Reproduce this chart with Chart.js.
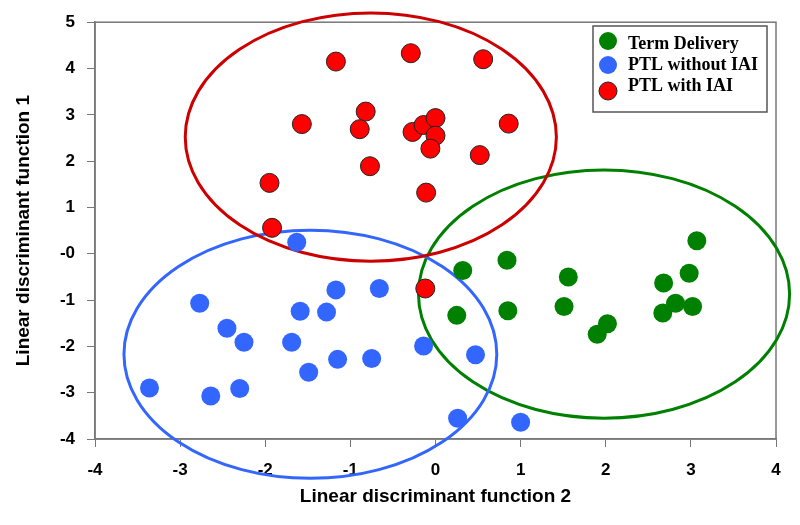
<!DOCTYPE html>
<html>
<head>
<meta charset="utf-8">
<script src="https://cdn.jsdelivr.net/npm/chart.js@4.4.1/dist/chart.umd.min.js"></script>
<style>
  html, body { margin: 0; padding: 0; background: #fff; }
  #wrap { width: 800px; height: 525px; }
</style>
</head>
<body>
<div id="wrap"><canvas id="lda-chart" width="800" height="525"></canvas></div>
<script>
// group names
const groups = ["Term Delivery", "PTL without IAI", "PTL with IAI"];

// Term Delivery (green)
const termX = [3.07, 0.84, 0.32, 1.56, 2.98, 2.68, 2.82, 3.02, 2.67, 1.51, 0.85, 0.25, 2.02, 1.90];
const termY = [0.28, -0.14, -0.36, -0.50, -0.42, -0.63, -1.07, -1.14, -1.28, -1.14, -1.23, -1.33, -1.51, -1.74];

// PTL without IAI (blue)
const noIaiX = [-1.63, -1.17, -0.66, -2.77, -1.59, -1.28, -2.45, -2.25, -1.69, -0.14, 0.47, -1.15, -0.75, -1.49, -3.36, -2.30, -2.64, 0.26, 1.00];
const noIaiY = [0.25, -0.78, -0.75, -1.07, -1.24, -1.26, -1.61, -1.91, -1.91, -1.99, -2.18, -2.28, -2.26, -2.56, -2.90, -2.91, -3.07, -3.55, -3.64];

// PTL with IAI (red)
const iaiX = [-1.17, -0.29, 0.56, -0.82, -1.57, -0.89, -0.27, -0.14, 0.00, 0.00, -0.06, 0.52, -0.77, -1.95, -0.11, -1.92, 0.86, -0.12];
const iaiY = [4.15, 4.33, 4.20, 3.07, 2.80, 2.69, 2.63, 2.78, 2.93, 2.55, 2.27, 2.13, 1.89, 1.53, 1.32, 0.56, 2.81, -0.75];

// group ellipses (center and half-widths in data units)
const ellipseCx = [1.98, -1.47, -0.76];
const ellipseCy = [-0.87, -2.17, 2.52];
const ellipseRx = [2.18, 2.19, 2.18];
const ellipseRy = [2.68, 2.68, 2.68];

// tick labels
const xTickLabels = ["-4", "-3", "-2", "-1", "0", "1", "2", "3", "4"];
const yTickLabels = { 5: "5", 4: "4", 3: "3", 2: "2", 1: "1", 0: "-0", "-1": "-1", "-2": "-2", "-3": "-3", "-4": "-4" };

const fillColors = ["#008000", "#3366ff", "#ff0000"];
const lineColors = ["#008000", "#3366ff", "#cc0000"];

function toPoints(xs, ys) {
  return xs.map((x, i) => ({ x: x, y: ys[i] }));
}

// frame around the plot area
const framePlugin = {
  id: "frame",
  beforeDatasetsDraw(chart) {
    const a = chart.chartArea;
    const ctx = chart.ctx;
    ctx.save();
    ctx.strokeStyle = "#777";
    ctx.lineWidth = 1.5;
    ctx.strokeRect(a.left, a.top, a.right - a.left, a.bottom - a.top);
    ctx.restore();
  }
};

// group ellipses, drawn under the points and not clipped
const ellipsePlugin = {
  id: "ellipses",
  beforeDatasetsDraw(chart) {
    const xs = chart.scales.x, ys = chart.scales.y;
    const ctx = chart.ctx;
    ctx.save();
    ctx.lineWidth = 3;
    ellipseCx.forEach((cx, i) => {
      const px = xs.getPixelForValue(cx);
      const py = ys.getPixelForValue(ellipseCy[i]);
      const rx = Math.abs(xs.getPixelForValue(cx + ellipseRx[i]) - px);
      const ry = Math.abs(ys.getPixelForValue(ellipseCy[i] + ellipseRy[i]) - py);
      ctx.strokeStyle = lineColors[i];
      ctx.beginPath();
      ctx.ellipse(px, py, rx, ry, 0, 0, Math.PI * 2);
      ctx.stroke();
    });
    ctx.restore();
  }
};

// legend box in the top right corner
const legendBoxPlugin = {
  id: "legendBox",
  afterDraw(chart) {
    const ctx = chart.ctx;
    ctx.save();
    ctx.fillStyle = "#fff";
    ctx.fillRect(593, 26, 174, 86);
    ctx.strokeStyle = "#555";
    ctx.lineWidth = 1.5;
    ctx.strokeRect(593, 26, 174, 86);
    const dotY = [41, 65, 91];
    const textY = [44, 65, 86];
    chart.data.datasets.forEach((ds, i) => {
      ctx.beginPath();
      ctx.arc(608, dotY[i], 9, 0, Math.PI * 2);
      ctx.fillStyle = ds.backgroundColor;
      ctx.fill();
      if (ds.borderWidth) {
        ctx.lineWidth = 1;
        ctx.strokeStyle = ds.borderColor;
        ctx.stroke();
      }
      ctx.fillStyle = "#000";
      ctx.font = "bold 18px 'Liberation Serif', 'Times New Roman', serif";
      ctx.textBaseline = "middle";
      ctx.textAlign = "left";
      ctx.fillText(ds.label, 628, textY[i]);
    });
    ctx.restore();
  }
};

const ctx = document.getElementById("lda-chart").getContext("2d");

new Chart(ctx, {
  type: "scatter",
  data: {
    datasets: [
      {
        label: groups[0],
        data: toPoints(termX, termY),
        backgroundColor: fillColors[0],
        borderColor: fillColors[0],
        borderWidth: 0,
        pointRadius: 9.5
      },
      {
        label: groups[1],
        data: toPoints(noIaiX, noIaiY),
        backgroundColor: fillColors[1],
        borderColor: fillColors[1],
        borderWidth: 0,
        pointRadius: 9.5
      },
      {
        label: groups[2],
        data: toPoints(iaiX, iaiY),
        backgroundColor: fillColors[2],
        borderColor: "#222",
        borderWidth: 1,
        pointRadius: 9.5
      }
    ]
  },
  options: {
    responsive: false,
    animation: false,
    clip: false,
    layout: { padding: { top: 19, right: 24, left: 0, bottom: 0 } },
    plugins: {
      legend: { display: false },
      tooltip: { enabled: false }
    },
    scales: {
      x: {
        type: "linear",
        min: -4,
        max: 4,
        afterFit(scale) { scale.height = 86; },
        afterBuildTicks(scale) {
          scale.ticks = xTickLabels.map(t => ({ value: Number(t) }));
        },
        ticks: {
          color: "#000",
          padding: 13,
          font: { family: "'Liberation Sans', Arial, sans-serif", size: 17, weight: "bold" },
          callback: (v) => xTickLabels[v + 4]
        },
        grid: { drawOnChartArea: false, tickLength: 8, color: "#777", tickColor: "#777" },
        border: { color: "#777", width: 1.5 },
        title: {
          display: true,
          text: "Linear discriminant function 2",
          color: "#000",
          padding: { top: 0, bottom: 17 },
          font: { family: "'Liberation Sans', Arial, sans-serif", size: 19, weight: "bold" }
        }
      },
      y: {
        type: "linear",
        min: -4,
        max: 5,
        afterFit(scale) { scale.width = 95; },
        ticks: {
          stepSize: 1,
          color: "#000",
          padding: 12,
          font: { family: "'Liberation Sans', Arial, sans-serif", size: 17, weight: "bold" },
          callback: (v) => yTickLabels[v]
        },
        grid: { drawOnChartArea: false, tickLength: 8, color: "#777", tickColor: "#777" },
        border: { color: "#777", width: 1.5 },
        title: {
          display: true,
          text: "Linear discriminant function 1",
          color: "#000",
          padding: { top: 12, bottom: 0 },
          font: { family: "'Liberation Sans', Arial, sans-serif", size: 19, weight: "bold" }
        }
      }
    }
  },
  plugins: [framePlugin, ellipsePlugin, legendBoxPlugin]
});
</script>
</body>
</html>
